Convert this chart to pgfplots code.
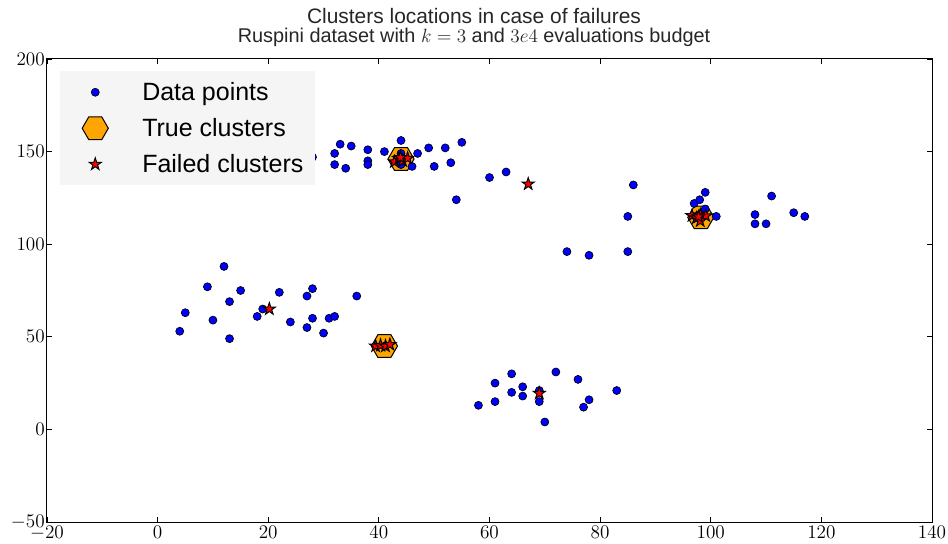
\documentclass[border=0pt]{standalone}
\usepackage[no-math]{fontspec}
\usepackage{pgfplots}
\pgfplotsset{compat=1.18}
\newfontfamily\sansfnt{Liberation Sans}
\definecolor{mporange}{HTML}{FFA500}

\pgfdeclareplotmark{hexa}{%
  \pgfpathmoveto{\pgfpointpolar{0}{\pgfplotmarksize}}%
  \pgfpathlineto{\pgfpointpolar{60}{\pgfplotmarksize}}%
  \pgfpathlineto{\pgfpointpolar{120}{\pgfplotmarksize}}%
  \pgfpathlineto{\pgfpointpolar{180}{\pgfplotmarksize}}%
  \pgfpathlineto{\pgfpointpolar{240}{\pgfplotmarksize}}%
  \pgfpathlineto{\pgfpointpolar{300}{\pgfplotmarksize}}%
  \pgfpathclose\pgfusepathqfillstroke}
\pgfdeclareplotmark{fstar}{%
  \pgfpathmoveto{\pgfpointpolar{90}{\pgfplotmarksize}}%
  \pgfpathlineto{\pgfpointpolar{126}{0.382\pgfplotmarksize}}%
  \pgfpathlineto{\pgfpointpolar{162}{\pgfplotmarksize}}%
  \pgfpathlineto{\pgfpointpolar{198}{0.382\pgfplotmarksize}}%
  \pgfpathlineto{\pgfpointpolar{234}{\pgfplotmarksize}}%
  \pgfpathlineto{\pgfpointpolar{270}{0.382\pgfplotmarksize}}%
  \pgfpathlineto{\pgfpointpolar{306}{\pgfplotmarksize}}%
  \pgfpathlineto{\pgfpointpolar{342}{0.382\pgfplotmarksize}}%
  \pgfpathlineto{\pgfpointpolar{18}{\pgfplotmarksize}}%
  \pgfpathlineto{\pgfpointpolar{54}{0.382\pgfplotmarksize}}%
  \pgfpathclose\pgfusepathqfillstroke}

\begin{document}
\begin{tikzpicture}
\path[use as bounding box] (-35.25pt,-15.75pt) rectangle (675.75pt,391.5pt);
\begin{axis}[
  at={(0,0)}, anchor=south west,
  scale only axis, width=663.75pt, height=347.25pt,
  xmin=-20, xmax=140, ymin=-50, ymax=200,
  xtick={-20,0,...,140}, ytick={-50,0,...,200},
  tick align=inside, tick pos=both,
  major tick length=4pt,
  tick style={black, line width=0.6pt},
  axis line style={black, line width=0.75pt},
  tick label style={font=\fontsize{14}{16}\selectfont},
  xticklabel style={inner ysep=2.8pt},
  yticklabel style={inner xsep=1.5pt},
  legend cell align=left,
  legend image code/.code={%
    \path[draw=none, fill=none, use as bounding box] (0pt,-4pt) rectangle (34.5pt,4pt);
    \draw[#1] plot coordinates {(17.25pt,0pt)};},
  legend style={
    at={(rel axis cs:0,1)}, anchor=north west, xshift=9.75pt, yshift=-9pt,
    fill=black!4, draw=none,
    font=\sansfnt\fontsize{18.75}{22}\selectfont,
    inner xsep=9pt, inner ysep=6.75pt,
    column sep=18pt, row sep=9pt,
    nodes={inner sep=0pt, text height=15.5pt, text depth=2.5pt},
  },
]
\addlegendimage{only marks, mark=*, mark size=3pt, mark options={fill=blue, draw=black, line width=0.5pt}}
\addlegendentry{Data points}
\addlegendimage{only marks, mark=hexa, mark size=9.8pt, mark options={fill=mporange, draw=black, line width=0.75pt}}
\addlegendentry{True clusters}
\addlegendimage{only marks, mark=fstar, mark size=4.8pt, mark options={fill=red, draw=black, line width=0.75pt}}
\addlegendentry{Failed clusters}

% true clusters
\addplot[forget plot, only marks, mark=hexa, mark size=9.8pt, mark options={fill=mporange, draw=black, line width=0.75pt}]
coordinates {(44,146) (41,45) (98.2,114.5)};

% Ruspini data
\addplot[forget plot, only marks, mark=*, mark size=3pt, mark options={fill=blue, draw=black, line width=0.5pt}]
coordinates {
(4,53) (5,63) (10,59) (9,77) (13,49) (13,69) (12,88) (15,75) (18,61) (19,65)
(22,74) (27,72) (28,76) (24,58) (27,55) (28,60) (30,52) (31,60) (32,61) (36,72)
(28,147) (32,149) (35,153) (33,154) (38,151) (41,150) (38,145) (38,143) (32,143) (34,141)
(44,156) (44,149) (44,143) (46,142) (47,149) (49,152) (50,142) (53,144) (52,152) (55,155)
(54,124) (60,136) (63,139) (86,132) (85,115) (85,96) (78,94) (74,96) (97,122) (98,116)
(98,124) (99,119) (99,128) (101,115) (108,111) (110,111) (108,116) (111,126) (115,117) (117,115)
(70,4) (77,12) (83,21) (61,15) (69,15) (78,16) (66,18) (58,13) (64,20) (69,21)
(66,23) (61,25) (76,27) (72,31) (64,30)
};

% failed clusters
\addplot[forget plot, only marks, mark=fstar, mark size=4.8pt, mark options={fill=red, draw=black, line width=0.75pt}]
coordinates {
(42.8,144.5) (43.6,146.2) (44.3,145) (45.2,146.4) (43.9,146.8)
(96.6,115.4) (97.4,114.2) (98.1,115.8) (99.1,115.3) (98.1,112.6) (97.8,114.8)
(39.4,45) (40.3,45.4) (41.2,45) (42.0,45.8)
(67,132.5) (20.2,65) (69,19.5)
};
\end{axis}
\node[anchor=base, font=\sansfnt\fontsize{15.7}{18}\selectfont, text=black!85] at (320.25pt,373.8pt) {Clusters locations in case of failures};
\node[anchor=base, font=\sansfnt\fontsize{14.9}{18}\selectfont, text=black!85] at (320.25pt,359.8pt) {Ruspini dataset with $k=3$ and $3e4$ evaluations budget};
\end{tikzpicture}
\end{document}
